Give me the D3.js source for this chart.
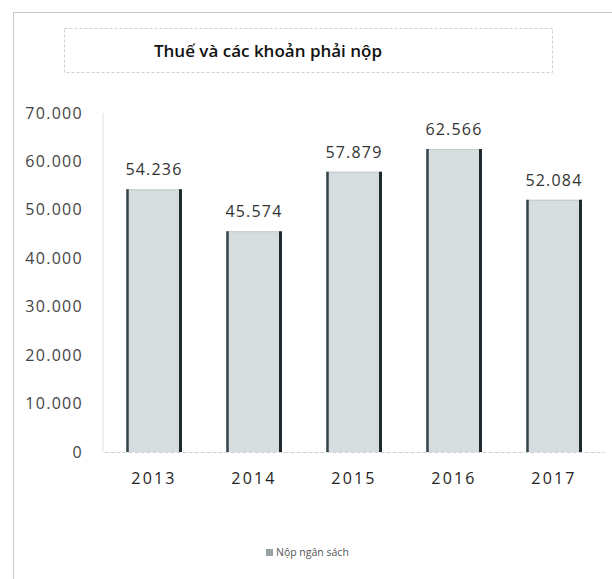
<!DOCTYPE html>
<html>
<head>
<meta charset="utf-8">
<script src="https://cdn.jsdelivr.net/npm/d3@7"></script>
<style>
  html, body { margin: 0; padding: 0; background: #fff; }
  svg { display: block; }
  text { font-family: "Open Sans", "Noto Sans", sans-serif; }
</style>
</head>
<body>
<svg id="chart" width="612" height="579"></svg>
<script>
// Thuế và các khoản phải nộp, 2013–2017
const years = ["2013", "2014", "2015", "2016", "2017"];
const values = [54236, 45574, 57879, 62566, 52084];
const valueLabels = ["54.236", "45.574", "57.879", "62.566", "52.084"];
const yTicks = [0, 10000, 20000, 30000, 40000, 50000, 60000, 70000];
const yTickLabels = ["0", "10.000", "20.000", "30.000", "40.000", "50.000", "60.000", "70.000"];
const chartTitle = "Thuế và các khoản phải nộp";
const seriesName = "Nộp ngân sách";

const svg = d3.select("#chart");
const W = 612, H = 579;
const plot = { left: 104, right: 604, top: 113, bottom: 452 };

// outer frame
svg.append("rect")
  .attr("x", 13.5).attr("y", 12.5)
  .attr("width", W - 13).attr("height", H - 12)
  .attr("fill", "#fff")
  .attr("stroke", "#c8c8c8").attr("stroke-width", 1);

// title box
svg.append("rect")
  .attr("x", 64.5).attr("y", 28.5)
  .attr("width", 488).attr("height", 44)
  .attr("fill", "none")
  .attr("stroke", "#cfcfcf").attr("stroke-width", 1)
  .attr("stroke-dasharray", "3,2");

svg.append("text")
  .attr("x", 268).attr("y", 57)
  .attr("text-anchor", "middle")
  .attr("font-size", 17)
  .attr("font-weight", 600)
  .attr("fill", "#111")
  .text(chartTitle);

const x = d3.scaleBand()
  .domain(years)
  .range([plot.left, plot.right])
  .paddingInner(0.45)
  .paddingOuter(0.225);

const y = d3.scaleLinear()
  .domain([0, 70000])
  .range([plot.bottom, plot.top]);

// y axis labels
const yAxis = d3.axisLeft(y)
  .tickValues(yTicks)
  .tickFormat((d, i) => yTickLabels[i])
  .tickSize(0)
  .tickPadding(20);

const gy = svg.append("g")
  .attr("transform", `translate(${plot.left - 1},0)`)
  .call(yAxis);
gy.select(".domain")
  .attr("stroke", "#e0e0e0")
  .attr("d", `M0,${plot.top}V${plot.bottom}`);
gy.selectAll("text")
  .attr("font-size", 16)
  .attr("letter-spacing", 1.3)
  .attr("fill", "#444")
  .attr("font-family", "'Open Sans', sans-serif");

// x axis baseline and year labels
const xAxis = d3.axisBottom(x).tickSize(0).tickPadding(21);
const gx = svg.append("g")
  .attr("transform", `translate(0,${plot.bottom})`)
  .call(xAxis);
gx.select(".domain")
  .attr("stroke", "#cfcfcf")
  .attr("stroke-dasharray", "4,2");
gx.selectAll("text")
  .attr("font-size", 16)
  .attr("letter-spacing", 2.2)
  .attr("fill", "#222")
  .attr("font-family", "'Open Sans', sans-serif");

// bars
const bars = svg.append("g").selectAll("g")
  .data(years.map((yr, i) => ({ yr, v: values[i], label: valueLabels[i] })))
  .join("g");

bars.append("rect")
  .attr("x", d => x(d.yr))
  .attr("y", d => y(d.v))
  .attr("width", x.bandwidth())
  .attr("height", d => y(0) - y(d.v))
  .attr("fill", "#d7dcdf");

bars.append("line")
  .attr("x1", d => x(d.yr)).attr("x2", d => x(d.yr) + x.bandwidth())
  .attr("y1", d => y(d.v) + 0.5).attr("y2", d => y(d.v) + 0.5)
  .attr("stroke", "#c3c9cc").attr("stroke-width", 1);

bars.append("line")
  .attr("x1", d => x(d.yr) + 1).attr("x2", d => x(d.yr) + 1)
  .attr("y1", d => y(d.v)).attr("y2", y(0))
  .attr("stroke", "#33444a").attr("stroke-width", 2.5);

bars.append("line")
  .attr("x1", d => x(d.yr) + x.bandwidth() - 1).attr("x2", d => x(d.yr) + x.bandwidth() - 1)
  .attr("y1", d => y(d.v)).attr("y2", y(0))
  .attr("stroke", "#1f2a2e").attr("stroke-width", 3);

bars.append("text")
  .attr("x", d => x(d.yr) + x.bandwidth() / 2)
  .attr("y", d => y(d.v) - 14)
  .attr("text-anchor", "middle")
  .attr("font-size", 16)
  .attr("letter-spacing", 1.2)
  .attr("fill", "#333")
  .text(d => d.label);

// legend
const legend = svg.append("g").attr("transform", "translate(266,556)");
legend.append("rect")
  .attr("x", 0).attr("y", -7)
  .attr("width", 7).attr("height", 7)
  .attr("fill", "#9aa2a6");
legend.append("text")
  .attr("x", 10).attr("y", 0)
  .attr("font-size", 10.5)
  .attr("fill", "#555")
  .text(seriesName);
</script>
</body>
</html>
